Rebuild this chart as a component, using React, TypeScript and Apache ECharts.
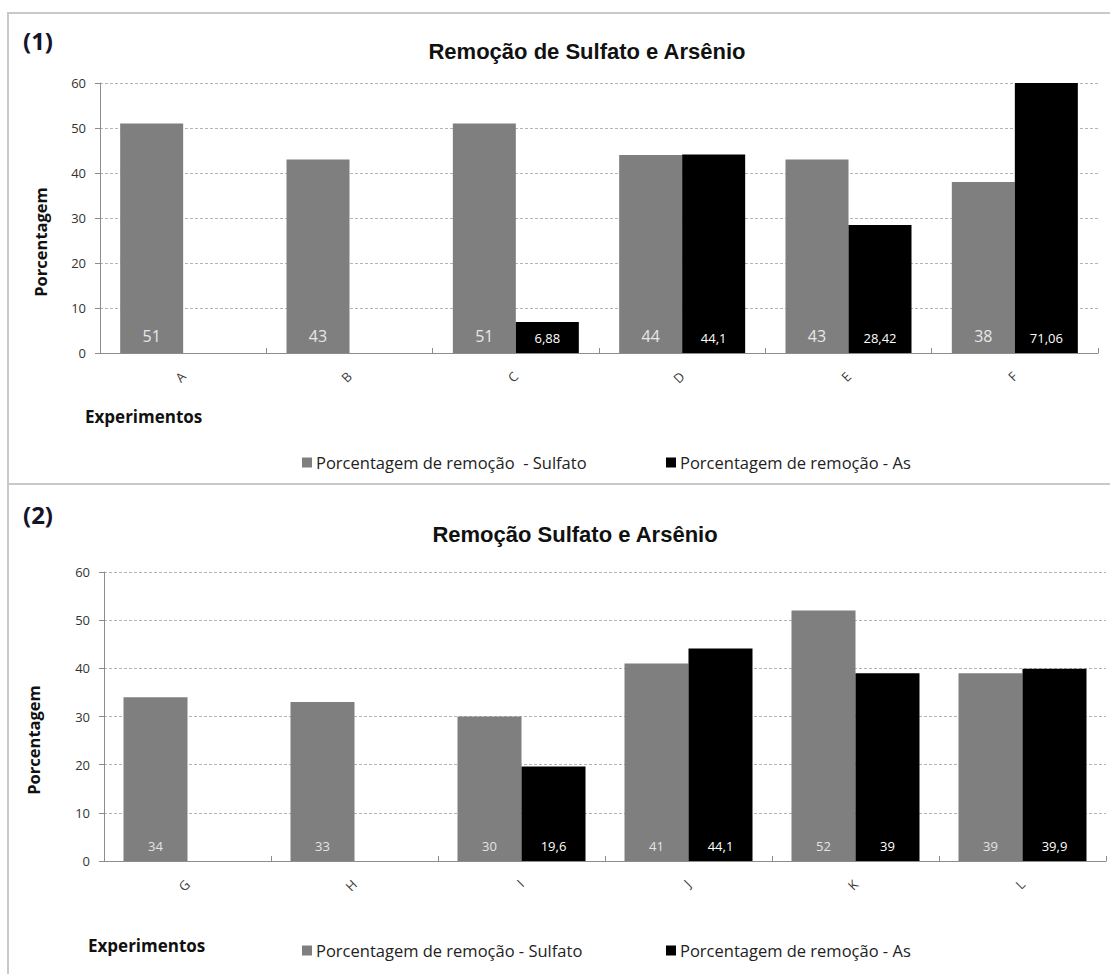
import React, { useEffect, useRef } from "react";
import * as echarts from "echarts";

// Panel (1)
const categories1 = ["A", "B", "C", "D", "E", "F"];
const sulfato1 = [51, 43, 51, 44, 43, 38];
const arsenio1: (number | null)[] = [null, null, 6.88, 44.1, 28.42, 71.06];

// Panel (2)
const categories2 = ["G", "H", "I", "J", "K", "L"];
const sulfato2 = [34, 33, 30, 41, 52, 39];
const arsenio2: (number | null)[] = [null, null, 19.6, 44.1, 39, 39.9];

const yMin = 0;
const yMax = 60;
const yStep = 10;

const titles = ["Remoção de Sulfato e Arsênio", "Remoção Sulfato e Arsênio"];
const sulfatoNames = ["Porcentagem de remoção  - Sulfato", "Porcentagem de remoção - Sulfato"];
const asName = "Porcentagem de remoção - As";

const CAL = "'Open Sans', Lato, sans-serif";
const ARIAL = "'Liberation Sans', Arial, sans-serif";
const GRAY = "#7f7f7f";
const BORDER = "#c9c9c9";

const fmt = (v: number) => String(v).replace(".", ",");

export default function App() {
  const ref = useRef<HTMLDivElement>(null);

  useEffect(() => {
    if (!ref.current) return;
    const chart = echarts.init(ref.current, undefined, { renderer: "svg" });

    const grids = [
      { left: 100, top: 83, width: 998, height: 270 },
      { left: 104, top: 572, width: 1002, height: 289 },
    ];

    const makeX = (i: number, cats: string[]) => ({
      type: "category",
      gridIndex: i,
      data: cats,
      axisLine: { lineStyle: { color: "#8c8c8c", width: 1 } },
      axisTick: { show: true, inside: true, length: 5, lineStyle: { color: "#8c8c8c" } },
      axisLabel: {
        rotate: 45,
        margin: 21,
        fontSize: 13,
        color: "#3a3a3a",
        fontFamily: CAL,
      },
    });

    const makeY = (i: number) => ({
      type: "value",
      gridIndex: i,
      min: yMin,
      max: yMax,
      interval: yStep,
      axisLine: { show: true, lineStyle: { color: "#8c8c8c" } },
      axisTick: { show: true, length: 5, lineStyle: { color: "#8c8c8c" } },
      axisLabel: { margin: 14, fontSize: 13, color: "#333", fontFamily: CAL },
      splitLine: { lineStyle: { color: "#b4b4b4", type: [3, 2], width: 1 } },
    });

    const barSeries = (
      i: number,
      name: string,
      data: (number | null)[],
      color: string,
      labelColor: string,
      labelSize: number,
      width: number
    ) => ({
      type: "bar",
      name,
      xAxisIndex: i,
      yAxisIndex: i,
      data,
      barWidth: width,
      barGap: "0%",
      clip: true,
      itemStyle: { color },
      label: {
        show: true,
        position: "insideBottom",
        distance: 9,
        color: labelColor,
        fontSize: labelSize,
        fontFamily: CAL,
        formatter: (p: any) => fmt(p.value),
      },
    });

    const legendItem = (left: number, top: number, name: string, color: string) => ({
      left,
      top,
      padding: 0,
      itemWidth: 10,
      itemHeight: 10,
      itemGap: 0,
      selectedMode: false,
      data: [{ name, icon: "rect", itemStyle: { color } }],
      textStyle: { fontSize: 16.5, color: "#222", fontFamily: CAL, padding: [0, 0, 0, -1] },
    });

    const text = (x: number, y: number, t: string, size: number, extra: any = {}) => ({
      type: "text",
      x,
      y,
      ...extra,
      style: {
        text: t,
        fontSize: size,
        fontWeight: "bold",
        fontFamily: CAL,
        fill: "#111",
        textVerticalAlign: "middle",
        ...(extra.style || {}),
      },
    });

    chart.setOption({
      animation: false,
      backgroundColor: "#ffffff",
      title: [
        {
          text: titles[0],
          left: 582,
          top: 35,
          textAlign: "center",
          textStyle: { fontSize: 22, fontWeight: "bold", fontFamily: ARIAL, color: "#111" },
        },
        {
          text: titles[1],
          left: 570,
          top: 518,
          textAlign: "center",
          textStyle: { fontSize: 22, fontWeight: "bold", fontFamily: ARIAL, color: "#111" },
        },
      ],
      grid: grids,
      xAxis: [makeX(0, categories1), makeX(1, categories2)],
      yAxis: [makeY(0), makeY(1)],
      legend: [
        legendItem(302, 454, sulfatoNames[0], GRAY),
        legendItem(666, 454, asName, "#000"),
        legendItem(302, 942, sulfatoNames[1], GRAY),
        legendItem(666, 942, asName, "#000"),
      ],
      series: [
        barSeries(0, sulfatoNames[0], sulfato1, GRAY, "#e8e8e8", 16, 63),
        barSeries(0, asName, arsenio1, "#000", "#ffffff", 13, 63),
        barSeries(1, sulfatoNames[1], sulfato2, GRAY, "#e4e4e4", 13, 64),
        barSeries(1, asName, arsenio2, "#000", "#ffffff", 13, 64),
      ],
      graphic: [
        // panel frames
        { type: "line", shape: { x1: 7, y1: 13, x2: 1110, y2: 13 }, style: { stroke: BORDER, lineWidth: 2 } },
        { type: "line", shape: { x1: 8, y1: 13, x2: 8, y2: 974 }, style: { stroke: BORDER, lineWidth: 2 } },
        { type: "line", shape: { x1: 8, y1: 484, x2: 1110, y2: 484 }, style: { stroke: BORDER, lineWidth: 2 } },
        // panel numbers
        text(23, 40, "(1)", 24, { style: { fill: "#14142a" } }),
        text(23, 514, "(2)", 24, { style: { fill: "#14142a" } }),
        // axis names
        text(40, 242, "Porcentagem", 16.5, { rotation: Math.PI / 2, style: { textAlign: "center" } }),
        text(33, 740, "Porcentagem", 16.5, { rotation: Math.PI / 2, style: { textAlign: "center" } }),
        text(85, 416, "Experimentos", 17),
        text(88, 945, "Experimentos", 17),
      ],
    });

    return () => chart.dispose();
  }, []);

  return (
    <div
      ref={ref}
      style={{ position: "fixed", left: 0, top: 0, width: 1110, height: 974, background: "#fff" }}
    />
  );
}
